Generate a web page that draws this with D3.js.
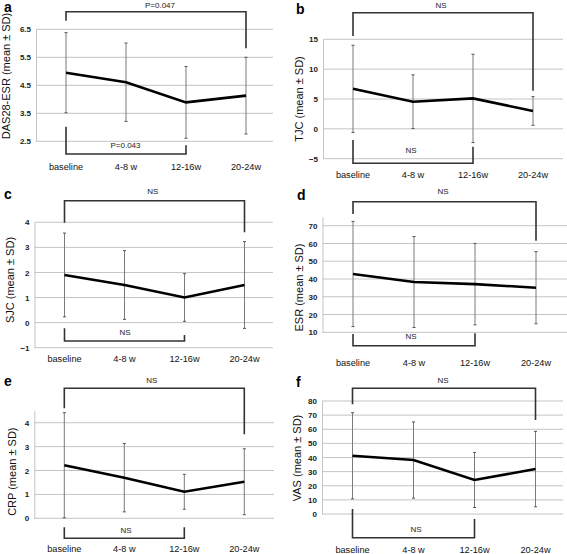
<!DOCTYPE html>
<html><head><meta charset="utf-8">
<script src="https://cdn.jsdelivr.net/npm/d3@7"></script>
<style>
body{margin:0;background:#fff;}
svg{display:block;font-family:"Liberation Sans",Arial,sans-serif;}
</style></head>
<body><svg id="chart" width="567" height="554"></svg>
<script>
// ---- data ----
const categories = ["baseline", "4-8 w", "12-16w", "20-24w"];

const dasMean = [4.95, 4.61, 3.89, 4.13];
const dasSD   = [1.43, 1.40, 1.28, 1.37];
const dasTicks = [2.5, 3.5, 4.5, 5.5, 6.5];

const tjcMean = [6.7, 4.55, 5.1, 3.0];
const tjcSD   = [7.3, 4.5, 7.4, 2.4];
const tjcTicks = [-5, 0, 5, 10, 15];

const sjcMean = [1.9, 1.5, 1.0, 1.5];
const sjcSD   = [1.67, 1.37, 0.95, 1.73];
const sjcTicks = [-1, 0, 1, 2, 3, 4];

const esrMean = [42.8, 38.3, 37.1, 35.1];
const esrSD   = [29.6, 25.6, 22.9, 20.3];
const esrTicks = [10, 20, 30, 40, 50, 60, 70];

const crpMean = [2.22, 1.7, 1.11, 1.53];
const crpSD   = [2.2, 1.43, 0.73, 1.38];
const crpTicks = [0, 1, 2, 3, 4];

const vasMean = [41.2, 38.2, 24.1, 31.8];
const vasSD   = [30.5, 27.0, 19.5, 26.7];
const vasTicks = [0, 10, 20, 30, 40, 50, 60, 70, 80];

const panelLetters = ["a", "b", "c", "d", "e", "f"];
const yTitles = ["DAS28-ESR (mean ± SD)", "TJC (mean ± SD)", "SJC (mean ± SD)",
                 "ESR (mean ± SD)", "CRP (mean ± SD)", "VAS (mean ± SD)"];
const topLabels = ["P=0.047", "NS", "NS", "NS", "NS", "NS"];
const bottomLabels = ["P=0.043", "NS", "NS", "NS", "NS", "NS"];

// ---- layout (pixel positions only) ----
const panels = [
  {mean: dasMean, sd: dasSD, ticks: dasTicks, dom: [2.5, 6.5], x: [36, 276], gridEnd: 273, y: [141.3, 29.3],
   letter: [4, 12], title: [6, 76], xLab: 170, topY: 11.7, topL: 20.7, topR: 48.3, topLab: [160, 8],
   botY: 154, botL: 126.7, botR: 145.3, botLab: [125.5, 148.3]},
  {mean: tjcMean, sd: tjcSD, ticks: tjcTicks, dom: [-5, 15], x: [323, 563], gridEnd: 563, y: [158.7, 39.3],
   letter: [296, 14], title: [299, 99], xLab: 178.5, topY: 12.7, topL: 36, topR: 90.7, topLab: [441, 8],
   botY: 163.3, botL: 140, botR: 146.7, botLab: [411, 152.5]},
  {mean: sjcMean, sd: sjcSD, ticks: sjcTicks, dom: [-1, 4], x: [34.5, 274.5], gridEnd: 273, y: [347.7, 222.3],
   letter: [4, 199], title: [10, 280], xLab: 362.5, topY: 200.7, topL: 222.7, topR: 232.3, topLab: [152.7, 194],
   botY: 341, botL: 328.3, botR: 335, botLab: [125, 335]},
  {mean: esrMean, sd: esrSD, ticks: esrTicks, dom: [10, 75], x: [322.5, 566.5], gridEnd: 567, y: [332.3, 216.8],
   letter: [297, 200], title: [299, 287.5], xLab: 366, topY: 201.7, topL: 214, topR: 240.7, topLab: [443, 194],
   botY: 345.7, botL: 334, botR: 333.3, botLab: [411, 339.3]},
  {mean: crpMean, sd: crpSD, ticks: crpTicks, dom: [0, 4.5], x: [34.3, 274.3], gridEnd: 274, y: [518.3, 410.8],
   letter: [4, 386], title: [12, 471.7], xLab: 552.5, topY: 388.3, topL: 408.3, topR: 434.3, topLab: [151.7, 383.3],
   botY: 538.3, botL: 527.3, botR: 527.3, botLab: [126, 532.7]},
  {mean: vasMean, sd: vasSD, ticks: vasTicks, dom: [0, 80], x: [322, 566], gridEnd: 563, y: [514, 401],
   letter: [296, 387], title: [297, 458], xLab: 553, topY: 388.3, topL: 404.3, topR: 420, topLab: [443, 383.3],
   botY: 537.7, botL: 509, botR: 519, botLab: [416, 531.7]}
];

const svg = d3.select("#chart");

panels.forEach((p, i) => {
  const g = svg.append("g");
  const x = d3.scaleBand().domain(categories).range(p.x);
  const cx = c => x(c) + x.bandwidth() / 2;
  const y = d3.scaleLinear().domain(p.dom).range(p.y);

  // gridlines + tick labels
  const yAxis = d3.axisLeft(y).tickValues(p.ticks).tickSize(0).tickPadding(5).tickFormat(d3.format(""));
  const ya = g.append("g").attr("transform", `translate(${p.x[0]},0)`).call(yAxis);
  ya.select(".domain").attr("stroke", "#c4c4c4").attr("stroke-width", 1);
  ya.selectAll("text").attr("font-size", 8).attr("font-weight", "bold").attr("fill", "#222")
    .attr("font-family", "'Liberation Sans',Arial,sans-serif");
  g.selectAll(".grid").data(p.ticks).join("line")
    .attr("x1", p.x[0]).attr("x2", p.gridEnd)
    .attr("y1", d => y(d)).attr("y2", d => y(d))
    .attr("stroke", "#c4c4c4").attr("stroke-width", 1);

  // x labels
  const xAxis = d3.axisBottom(x).tickSize(0).tickPadding(0);
  const xa = g.append("g").attr("transform", `translate(0,${p.xLab - 7})`).call(xAxis);
  xa.select(".domain").remove();
  xa.selectAll("text").attr("font-size", 9.2).attr("fill", "#111").attr("dy", "0.71em")
    .attr("font-family", "'Liberation Sans',Arial,sans-serif");

  // error bars
  const data = categories.map((c, k) => ({c, m: p.mean[k], s: p.sd[k]}));
  const lo = d => y(Math.max(p.dom[0], d.m - d.s));
  const hi = d => y(Math.min(p.dom[1], d.m + d.s));
  g.selectAll(".eb").data(data).join("line")
    .attr("x1", d => cx(d.c)).attr("x2", d => cx(d.c))
    .attr("y1", lo).attr("y2", hi)
    .attr("stroke", "#7a7a7a").attr("stroke-width", 1);
  [lo, hi].forEach(f => {
    g.selectAll(null).data(data).join("line")
      .attr("x1", d => cx(d.c) - 1.5).attr("x2", d => cx(d.c) + 1.5)
      .attr("y1", f).attr("y2", f)
      .attr("stroke", "#555").attr("stroke-width", 1);
  });

  // mean line
  const line = d3.line().x(d => cx(d.c)).y(d => y(d.m));
  g.append("path").datum(data).attr("d", line)
    .attr("fill", "none").attr("stroke", "#000").attr("stroke-width", 2.6)
    .attr("stroke-linejoin", "miter");

  // brackets
  const xb = cx(categories[0]), xe = cx(categories[3]), xm = cx(categories[2]);
  g.append("path")
    .attr("d", `M${xb},${p.topL}V${p.topY}H${xe}V${p.topR}`)
    .attr("fill", "none").attr("stroke", "#333").attr("stroke-width", 1.6);
  g.append("path")
    .attr("d", `M${xb},${p.botL}V${p.botY}H${xm}V${p.botR}`)
    .attr("fill", "none").attr("stroke", "#333").attr("stroke-width", 1.6);
  g.append("text").attr("x", p.topLab[0]).attr("y", p.topLab[1])
    .attr("text-anchor", "middle").attr("font-size", 8).attr("fill", "#222").text(topLabels[i]);
  g.append("text").attr("x", p.botLab[0]).attr("y", p.botLab[1])
    .attr("text-anchor", "middle").attr("font-size", 8).attr("fill", "#222").text(bottomLabels[i]);

  // panel letter
  g.append("text").attr("x", p.letter[0]).attr("y", p.letter[1])
    .attr("font-size", 14).attr("font-weight", "bold").attr("fill", "#000").text(panelLetters[i]);

  // y title
  g.append("text")
    .attr("transform", `translate(${p.title[0]},${p.title[1]}) rotate(-90)`)
    .attr("text-anchor", "middle").attr("dy", "0.35em")
    .attr("font-size", 11).attr("fill", "#111").text(yTitles[i]);
});
</script>
</body></html>
